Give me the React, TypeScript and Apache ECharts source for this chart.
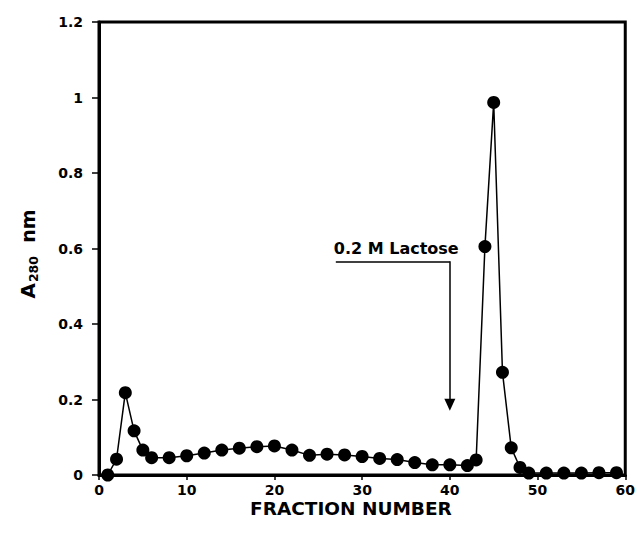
import React, { useEffect, useRef } from "react";
import * as echarts from "echarts";

const fractions = [1, 2, 3, 4, 5, 6, 8, 10, 12, 14, 16, 18, 20, 22, 24, 26, 28, 30, 32, 34, 36, 38, 40, 42, 43, 44, 45, 46, 47, 48, 49, 51, 53, 55, 57, 59];
const absorbance = [0.0, 0.042, 0.218, 0.117, 0.066, 0.046, 0.046, 0.051, 0.058, 0.066, 0.071, 0.075, 0.077, 0.066, 0.052, 0.055, 0.053, 0.049, 0.044, 0.041, 0.033, 0.027, 0.027, 0.025, 0.04, 0.605, 0.987, 0.272, 0.072, 0.02, 0.005, 0.005, 0.005, 0.005, 0.006, 0.006];
const xTicks = [0, 10, 20, 30, 40, 50, 60];
const yTicks = [0, 0.2, 0.4, 0.6, 0.8, 1, 1.2];
const annotationText = "0.2 M Lactose";
const annotationStart = [27, 0.566];
const annotationCorner = [40, 0.566];
const annotationTip = [40, 0.186];

const FONT = "DejaVu Sans";

export default function App() {
  const ref = useRef<HTMLDivElement>(null);
  useEffect(() => {
    if (!ref.current) return;
    const chart = echarts.init(ref.current, null, { renderer: "svg" });
    chart.setOption({
      animation: false,
      backgroundColor: "#fff",
      grid: { left: 99, right: 11, top: 22, bottom: 58, show: true, borderColor: "#000", borderWidth: 3, backgroundColor: "transparent" },
      xAxis: {
        type: "value",
        min: xTicks[0],
        max: xTicks[xTicks.length - 1],
        interval: 10,
        axisLine: { lineStyle: { color: "#000", width: 3 } },
        axisTick: { show: true, length: 5, lineStyle: { color: "#000", width: 1.5 } },
        axisLabel: { color: "#000", fontFamily: FONT, fontWeight: "bold", fontSize: 14, margin: 8 },
        splitLine: { show: false },
      },
      yAxis: {
        type: "value",
        min: yTicks[0],
        max: yTicks[yTicks.length - 1],
        interval: 0.2,
        axisLine: { show: true, lineStyle: { color: "#000", width: 3 } },
        axisTick: { show: true, length: 7, lineStyle: { color: "#000", width: 1.5 } },
        axisLabel: {
          color: "#000", fontFamily: FONT, fontWeight: "bold", fontSize: 14, margin: 16,
          formatter: (v: number) => String(Math.round(v * 10) / 10),
        },
        splitLine: { show: false },
      },
      graphic: [
        {
          type: "text",
          left: 250,
          top: 499,
          style: { text: "FRACTION NUMBER", font: `bold 18.5px "${FONT}"`, fill: "#000" },
        },
        {
          type: "text",
          x: 28,
          y: 254,
          rotation: Math.PI / 2,
          style: {
            text: "{a|A}{s|280}{n|  nm}",
            align: "center",
            verticalAlign: "middle",
            rich: {
              a: { fontFamily: FONT, fontWeight: "bold", fontSize: 20, fill: "#000", lineHeight: 26 },
              s: { fontFamily: FONT, fontWeight: "bold", fontSize: 12.5, fill: "#000", lineHeight: 26, padding: [10, 0, 0, 1] },
              n: { fontFamily: FONT, fontWeight: "bold", fontSize: 19, fill: "#000", lineHeight: 26 },
            },
          },
        },
      ],
      series: [
        {
          type: "line",
          data: fractions.map((f, i) => [f, absorbance[i]]),
          symbol: "circle",
          symbolSize: 13,
          itemStyle: { color: "#000" },
          lineStyle: { color: "#000", width: 1.5 },
          clip: false,
          markLine: {
            silent: true,
            animation: false,
            data: [
              [
                {
                  coord: annotationStart,
                  symbol: "none",
                  lineStyle: { color: "#000", width: 1.5, type: "solid" },
                  label: {
                    show: true,
                    formatter: annotationText,
                    position: "insideStartTop",
                    distance: [-2, 5],
                    color: "#000",
                    fontFamily: FONT,
                    fontWeight: "bold",
                    fontSize: 16,
                  },
                },
                { coord: annotationCorner, symbol: "none" },
              ],
              [
                {
                  coord: annotationCorner,
                  symbol: "none",
                  lineStyle: { color: "#000", width: 1.5, type: "solid" },
                  label: { show: false },
                },
                { coord: annotationTip, symbol: "triangle", symbolSize: [11, 12], symbolRotate: 180 },
              ],
            ],
          },
        },
      ],
    });
    return () => chart.dispose();
  }, []);
  return <div ref={ref} style={{ position: "fixed", left: 0, top: 0, width: 638, height: 533 }} />;
}
